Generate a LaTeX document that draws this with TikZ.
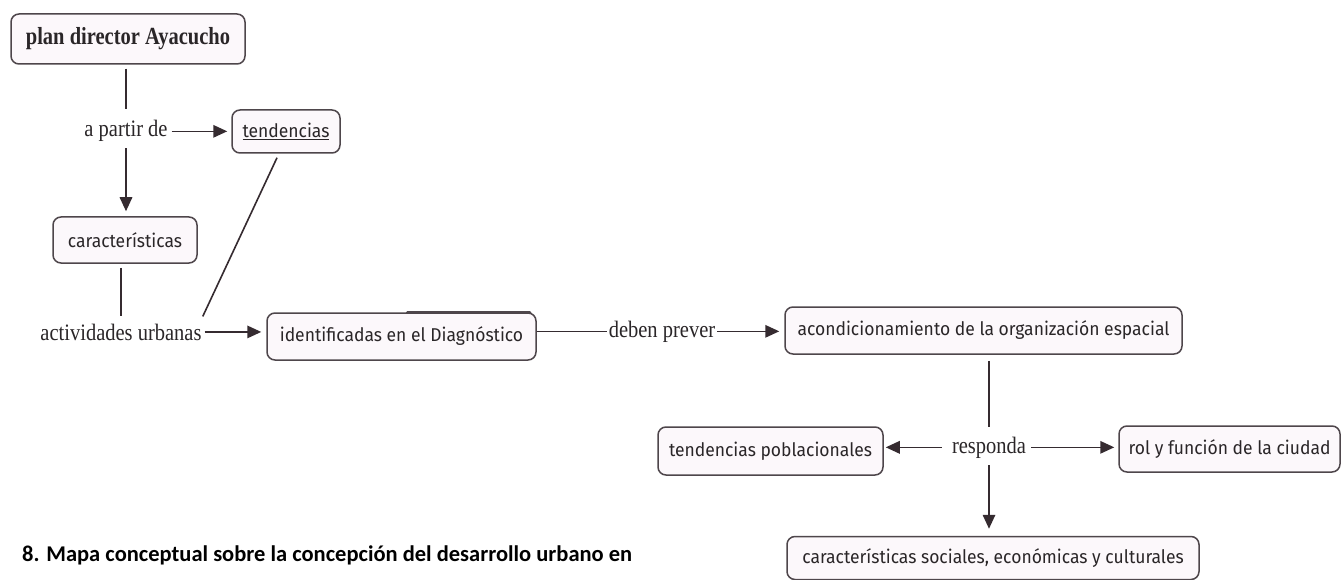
\documentclass[tikz,border=0pt]{standalone}
\usepackage{fontspec}
\usepackage{graphicx}
\setmainfont{Liberation Serif}
\newfontfamily\conceptfont{Fira Sans}
\newfontfamily\captionfont{Carlito}
\usetikzlibrary{arrows.meta,calc}
\definecolor{boxfill}{HTML}{FCF8FB}
\definecolor{boxdraw}{HTML}{4E464B}
\definecolor{linecol}{HTML}{352B30}
\definecolor{txtcol}{HTML}{2A2628}
\newcommand{\tallA}[1]{\scalebox{1}[1.15]{#1}}
\newcommand{\tallB}[1]{\scalebox{1}[1.2]{#1}}
\newcommand{\tallC}[1]{\scalebox{1}[1.06]{#1}}
\tikzset{
  concept/.style={draw=boxdraw, line width=1.5pt, fill=boxfill, rounded corners=8pt,
    font=\conceptfont\fontsize{17.5}{20}\selectfont, text=txtcol, inner sep=0pt},
  phrase/.style={font=\fontsize{20.5}{24}\selectfont, text=txtcol, inner xsep=2pt, inner ysep=2pt, anchor=base},
  conn/.style={draw=linecol, line width=1.6pt},
  arr/.style={conn, -{Triangle[length=14pt,width=12.5pt]}},
}
\begin{document}
\begin{tikzpicture}[x=1pt,y=-1pt]
\useasboundingbox[fill=white] (0,0) rectangle (1341,580);

% concepts
\node[concept, font=\bfseries\fontsize{20.5}{24}\selectfont, minimum width=234pt, minimum height=50pt] (plan) at (128,39) {\tallB{plan director Ayacucho}};
\node[concept, minimum width=108pt, minimum height=43pt] (tend) at (286,131.5) {\tallC{\underline{tendencias}}};
\node[concept, minimum width=144pt, minimum height=46pt] (caract) at (125,240) {\tallC{características}};
\node[concept, minimum width=269pt, minimum height=47pt] (ident) at (401.5,336.5) {\tallC{identificadas en el Diagnóstico}};
\node[concept, minimum width=397pt, minimum height=47pt] (acond) at (983.5,330.5) {\tallC{acondicionamiento de la organización espacial}};
\node[concept, minimum width=225pt, minimum height=48pt] (tpob) at (770.5,451) {\tallC{tendencias poblacionales}};
\node[concept, minimum width=221pt, minimum height=46pt] (rol) at (1229.5,449) {\tallC{rol y función de la ciudad}};
\node[concept, minimum width=412pt, minimum height=43pt] (csoc) at (993,558) {\tallC{características sociales, económicas y culturales}};

% thick stroke on top of ident box
\draw[boxdraw, line width=3pt, line cap=round] ($(ident.north west)+(141,0)$) -- ($(ident.north east)+(-7,0)$);

% linking phrases
\node[phrase] (apartir) at (126,137) {\tallA{a partir de}};
\node[phrase] (activ) at (121,340) {\tallA{actividades urbanas}};
\node[phrase] (deben) at (662,337) {\tallA{deben prever}};
\node[phrase] (resp) at (989,453) {\tallA{responda}};

% caption
\node[font=\captionfont\bfseries\fontsize{22.5}{27}\selectfont, text=black, anchor=base west, inner sep=0pt] (cap) at (22,561) {8. Mapa conceptual sobre la concepción del desarrollo urbano en};

% connectors
\draw[conn, shorten <=4pt, shorten >=9pt] (plan.south -| apartir.north) -- (apartir.north);
\draw[arr, shorten <=2pt, shorten >=4pt] (apartir.east) -- (tend.west |- apartir.east);
\draw[arr, shorten <=3.8pt, shorten >=5pt] (apartir.south) -- (caract.north -| apartir.south);
\draw[conn, shorten <=4pt, shorten >=5pt] (activ.north |- caract.south) -- (activ.north);
\draw[conn] ([xshift=-9pt,yshift=-4pt]tend.south) -- ([xshift=-1pt,yshift=5pt]activ.north east);
\draw[arr, shorten <=1pt, shorten >=5pt] (activ.east) -- (ident.west |- activ.east);
\draw[conn] (ident.east |- deben.west) -- (deben.west);
\draw[arr, shorten >=5pt] (deben.east) -- (acond.west |- deben.east);
\draw[conn, shorten <=6pt, shorten >=7pt] (acond.south -| resp.north) -- (resp.north);
\draw[arr, shorten <=8pt, shorten >=2pt] (resp.west) -- (tpob.east |- resp.west);
\draw[arr, shorten <=3pt, shorten >=4pt] (resp.east) -- (rol.west |- resp.east);
\draw[arr, shorten <=4.8pt, shorten >=7pt] (resp.south) -- (csoc.north -| resp.south);
\end{tikzpicture}
\end{document}
